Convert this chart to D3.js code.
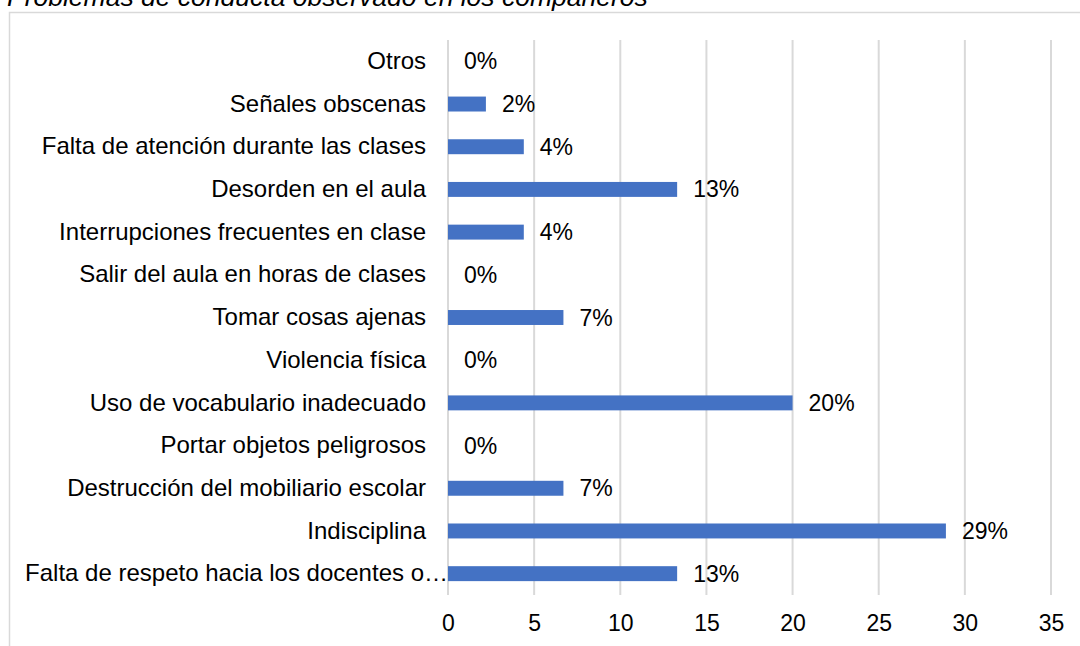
<!DOCTYPE html>
<html>
<head>
<meta charset="utf-8">
<script src="https://cdn.jsdelivr.net/npm/d3@7"></script>
<style>
  body { margin: 0; background: #fff; }
  text { font-family: "Liberation Sans", Arial, sans-serif; }
</style>
</head>
<body>
<script>
// data, top to bottom as in the chart
var categories = [
  "Otros",
  "Señales obscenas",
  "Falta de atención durante las clases",
  "Desorden en el aula",
  "Interrupciones frecuentes en clase",
  "Salir del aula en horas de clases",
  "Tomar cosas ajenas",
  "Violencia física",
  "Uso de vocabulario inadecuado",
  "Portar objetos peligrosos",
  "Destrucción del mobiliario escolar",
  "Indisciplina",
  "Falta de respeto hacia los docentes o…"
];
var values = [0, 2.2, 4.4, 13.3, 4.4, 0, 6.7, 0, 20, 0, 6.7, 28.9, 13.3];
var valueLabels = ["0%", "2%", "4%", "13%", "4%", "0%", "7%", "0%", "20%", "0%", "7%", "29%", "13%"];
var xTicks = [0, 5, 10, 15, 20, 25, 30, 35];
var title = "Problemas de conducta observado en los compañeros";

var full_width = 1080, full_height = 646;
var margin = {top: 40, right: 29, bottom: 51, left: 448};
var width = full_width - margin.left - margin.right,
    height = full_height - margin.top - margin.bottom;

var svg = d3.select("body").append("svg")
  .attr("width", full_width)
  .attr("height", full_height);

// chart frame (right and bottom run off the picture)
svg.append("path")
  .attr("d", "M9.5,660 L9.5,12.5 L1090,12.5")
  .attr("fill", "none")
  .attr("stroke", "#d9d9d9")
  .attr("stroke-width", 1.5);

svg.append("text")
  .attr("x", 7)
  .attr("y", 6)
  .style("font-size", "26.5px")
  .style("font-style", "italic")
  .attr("fill", "#000")
  .text(title);

var g = svg.append("g")
  .attr("transform", "translate(" + margin.left + "," + margin.top + ")");

var x = d3.scaleLinear().domain([0, 35]).range([0, width]);
var y = d3.scaleBand().domain(categories).range([0, height]).paddingInner(0.65).paddingOuter(0.325);

// gridlines
g.selectAll("line.grid")
  .data(xTicks)
  .enter().append("line")
  .attr("class", "grid")
  .attr("x1", function(d) { return x(d); })
  .attr("x2", function(d) { return x(d); })
  .attr("y1", 0)
  .attr("y2", height)
  .attr("stroke", "#d9d9d9")
  .attr("stroke-width", 2);

// x axis labels
var xAxis = g.append("g")
  .attr("transform", "translate(0," + height + ")")
  .call(d3.axisBottom(x).tickValues(xTicks).tickSize(0).tickPadding(20));
xAxis.select(".domain").remove();
xAxis.selectAll("text")
  .style("font-size", "23px")
  .style("font-family", "'Liberation Sans', Arial, sans-serif")
  .attr("fill", "#000");

// y axis labels
var yAxis = g.append("g")
  .call(d3.axisLeft(y).tickSize(0).tickPadding(22));
yAxis.select(".domain").remove();
yAxis.selectAll("text")
  .style("font-size", "24px")
  .style("font-family", "'Liberation Sans', Arial, sans-serif")
  .attr("fill", "#000");
// the truncated label runs up to the bar
yAxis.selectAll("text")
  .filter(function(d) { return d === categories[categories.length - 1]; })
  .attr("x", 0);

// bars
g.selectAll("rect.bar")
  .data(values)
  .enter().append("rect")
  .attr("class", "bar")
  .attr("x", x(0))
  .attr("y", function(d, i) { return y(categories[i]); })
  .attr("width", function(d) { return x(d) - x(0); })
  .attr("height", y.bandwidth())
  .attr("fill", "#4472c4");

// value labels
g.selectAll("text.val")
  .data(values)
  .enter().append("text")
  .attr("class", "val")
  .attr("x", function(d) { return x(d) + 16; })
  .attr("y", function(d, i) { return y(categories[i]) + y.bandwidth() / 2; })
  .attr("dy", "0.35em")
  .style("font-size", "23px")
  .attr("fill", "#000")
  .text(function(d, i) { return valueLabels[i]; });
</script>
</body>
</html>
